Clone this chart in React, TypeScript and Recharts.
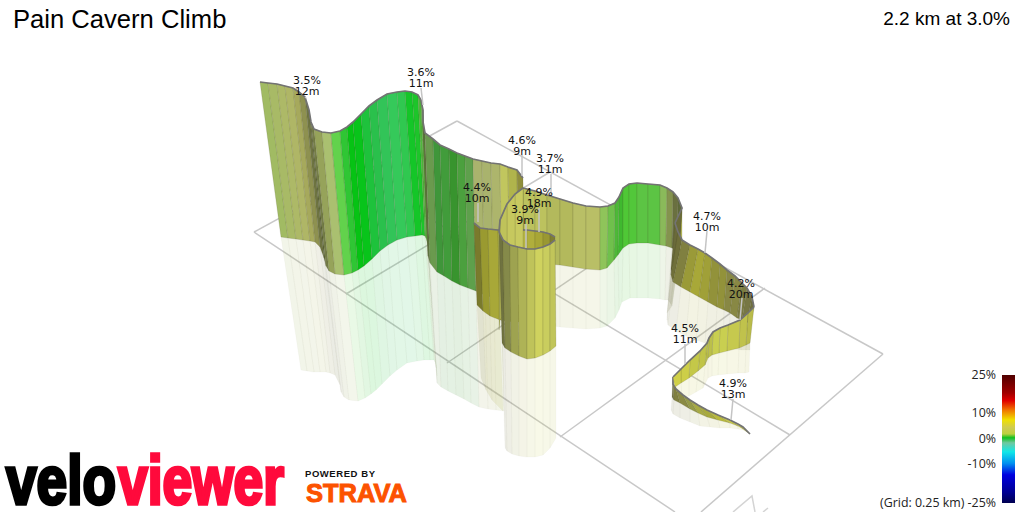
import React from 'react';
import { ComposedChart, Line, Scatter, XAxis, YAxis } from 'recharts';

// Each station: top x, top y, foot x, foot y, shadow x, shadow y
const wallAStations = [
  [260, 82, 281, 237, 301, 370], [268, 83, 288, 238, 307, 371], [277, 84, 296, 239, 314, 372],
  [285, 86, 303, 240, 320, 372], [293, 88, 310, 241, 326, 372], [299, 92, 315, 242, 330, 373],
  [305, 97, 320, 247, 335, 375], [309, 110, 324, 258, 340, 385], [311, 122, 326, 266, 341, 392],
  [314, 129, 329, 271, 344, 397], [322, 132, 335, 274, 349, 400], [331, 133, 344, 275, 358, 401],
  [340, 131, 352, 273, 365, 398], [347, 127, 358, 270, 371, 394], [353, 122, 364, 266, 376, 390],
  [361, 114, 372, 259, 382, 384], [369, 106, 380, 251, 390, 376], [377, 100, 388, 245, 397, 370],
  [387, 94, 397, 240, 407, 363], [397, 92, 407, 237, 417, 361], [405, 91, 415, 236, 424, 360],
  [412, 92, 422, 235, 430, 360], [418, 95, 425, 236, 434, 360], [421, 100, 426, 238, 435, 362],
  [423, 110, 428, 245, 436, 368], [423, 122, 428, 256, 437, 376], [425, 133, 430, 263, 437, 383],
  [433, 139, 437, 272, 441, 387], [440, 145, 444, 276, 448, 391], [449, 149, 452, 281, 456, 395],
  [457, 153, 460, 285, 464, 399], [465, 156, 468, 288, 471, 403], [473, 159, 476, 291, 479, 407],
  [482, 161, 485, 295, 488, 409], [491, 163, 494, 298, 496, 410], [500, 164, 502, 300, 504, 411],
  [508, 167, 510, 302, 512, 412], [517, 170, 519, 304, 520, 412], [523, 178, 524, 308, 525, 412],
];
const wallAColors = [
  '#a1bb63', '#a8ba66', '#adb967', '#afb666', '#a6a95c', '#8e9150', '#6f7542', '#5f683a', '#757e48',
  '#96a35a', '#aac070', '#62d24c', '#2fc634', '#06c314', '#08c41a', '#1ec23c', '#2ac04c', '#32c458',
  '#35c95a', '#30c850', '#14c628', '#1dc52a', '#4fb83c', '#5ca83e', '#5a7a3a', '#5f7540', '#6a9a4e',
  '#3f963a', '#419c3b', '#38942e', '#4ba03e', '#5ea04c', '#a9b36d', '#a9b36d', '#adb56c', '#c1c65e',
  '#b0b44c', '#8f8e3c',
];

const wallCStations = [
  [474, 223, 477, 305, 481, 378], [480, 228, 483, 311, 486, 390], [488, 229, 490, 316, 492, 400],
  [498, 230, 500, 320, 503, 411], [513, 230, 513, 322, 513, 412], [527, 230, 527, 322, 527, 412],
  [535, 231, 535, 322, 535, 412], [543, 232, 543, 322, 543, 412], [550, 234, 550, 322, 550, 412],
  [555, 237, 555, 320, 555, 412],
];
const wallCColors = ['#7a7a2c', '#9a9a30', '#a8a838', '#b8bb50', '#b5b442', '#b0ae3c', '#a8a636', '#9a9832', '#7f7e30'];

const foldStations = [
  [523, 188, 523, 305, 523, 400], [515, 194, 515, 305, 515, 400],
  [507, 204, 507, 310, 507, 400], [500, 220, 500, 320, 500, 400], [499, 232, 499, 330, 499, 400],
];
const foldColors = ['#c8ca60', '#c6c85e', '#bfc25a', '#a9ac50'];

const wallDStations = [
  [499, 232, 502, 343, 505, 448], [503, 240, 505, 348, 507, 451], [510, 245, 511, 352, 512, 454],
  [518, 247, 519, 356, 519, 456], [527, 249, 527, 359, 527, 457], [535, 249, 535, 358, 535, 457],
  [543, 247, 543, 355, 543, 455], [550, 244, 550, 351, 550, 448], [555, 240, 556, 346, 556, 438],
];
const wallDColors = ['#6f7240', '#858a4a', '#9ea350', '#aeb356', '#bfc35a', '#cfd25e', '#c9cd5e', '#c1c55a'];

const wallEStations = [
  [523, 188, 523, 260, 523, 320], [535, 191, 535, 262, 535, 323], [547, 195, 547, 264, 547, 325],
  [560, 199, 560, 265, 560, 327], [573, 203, 573, 267, 573, 328], [586, 206, 586, 269, 586, 329],
  [600, 207, 600, 270, 600, 328], [608, 206, 607, 268, 607, 326], [615, 203, 614, 260, 615, 318],
  [619, 197, 618, 255, 619, 310], [623, 188, 623, 248, 622, 302], [629, 184, 629, 244, 630, 298],
  [637, 183, 637, 243, 637, 298], [648, 184, 648, 243, 648, 298], [660, 185, 660, 245, 660, 299],
  [667, 188, 666, 246, 665, 300], [673, 192, 672, 248, 668, 300], [678, 198, 677, 251, 671, 304],
  [682, 208, 679, 255, 672, 306], [675, 223, 672, 268, 667, 313],
];
const wallEColors = [
  '#bcc25e', '#bcc25e', '#b3b95c', '#b3b95c', '#b9bf66', '#b9bf66', '#8fc45a', '#6fc04c', '#4db838',
  '#3fb92f', '#4fc836', '#52c73a', '#5cc444', '#5cc444', '#8aba5a', '#84934e', '#6a7040', '#5f6a3a', '#6a6a3a',
];

const sliverStations = [[682, 208, 682, 240, 682, 240], [675, 223, 675, 240, 675, 240]];
const sliverColors = ['#b9bb5a'];

const wallFStations = [
  [675, 223, 671, 268, 667, 313], [678, 232, 671, 275, 667, 320], [682, 240, 673, 282, 668, 325],
  [690, 245, 681, 287, 676, 331], [698, 249, 690, 292, 686, 336], [705, 253, 699, 297, 696, 340],
  [712, 258, 708, 302, 705, 343], [720, 264, 717, 307, 715, 345], [727, 270, 724, 310, 723, 347],
  [735, 276, 730, 313, 729, 348], [742, 283, 737, 318, 736, 349], [747, 288, 742, 320, 741, 350],
  [752, 297, 747, 322, 746, 350], [754, 307, 750, 325, 750, 350],
];
const wallFColors = [
  '#6a6a3a', '#6f6f3a', '#808040', '#9a9a38', '#a8a838', '#a0a038', '#92923a', '#92923a', '#888844',
  '#888844', '#7c7c42', '#777744', '#707040',
];

const wallGStations = [
  [754, 307, 750, 343, 749, 372], [748, 313, 746, 345, 745, 373], [740, 320, 739, 348, 738, 373],
  [728, 325, 727, 351, 727, 374], [720, 328, 719, 353, 718, 375], [713, 332, 712, 355, 712, 376],
  [709, 338, 708, 358, 708, 378], [707, 343, 705, 365, 703, 388], [700, 351, 698, 371, 696, 392],
  [690, 360, 689, 378, 689, 396], [681, 369, 681, 383, 682, 398], [673, 377, 675, 387, 675, 400],
];
const wallGColors = [
  '#b9bb4a', '#c0c24c', '#c6c94e', '#c9cf50', '#c9cf50', '#bcc04a', '#bcc04a', '#c0c448', '#c4c848',
  '#cdce48', '#d0d048',
];

const wallHStations = [
  [673, 377, 672, 397, 671, 410], [673, 384, 674, 400, 673, 414], [676, 389, 680, 403, 680, 418],
  [683, 395, 690, 409, 690, 422], [690, 400, 698, 413, 700, 426], [698, 405, 707, 417, 710, 427],
  [707, 410, 718, 420, 720, 428], [718, 415, 730, 423, 730, 428], [730, 420, 738, 426, 738, 429],
  [738, 424, 743, 429, 743, 430], [743, 427, 747, 432, 747, 432], [750, 434, 750, 434, 750, 434],
];
const wallHColors = [
  '#707040', '#808040', '#8a8a44', '#959a48', '#a8ab44', '#a8aa3c', '#b9ba3c', '#c8c848', '#c8c848',
  '#c4c440', '#b0b03c',
];

// Floor grid, read as end points
const gridLines = [
  [254, 232, 457, 121], [346, 294, 550, 172], [447, 363, 649, 226], [560, 437, 765, 288], [701, 512, 883, 354],
  [254, 232, 675, 512], [357, 175, 790, 435], [457, 121, 883, 354],
];
// Start of the north marker, cut off by the bottom edge
const northMark = [[733, 512], [752, 496], [755, 512]];
const northMarkTail = [[763, 512], [768, 508]];

const climbs = [
  { x: 307, y: 84, grade: '3.5%', length: '12m', line: [306, 98, 305, 97] },
  { x: 421, y: 76, grade: '3.6%', length: '11m', line: [421, 88, 423, 105] },
  { x: 522, y: 144, grade: '4.6%', length: '9m', line: [522, 155, 522, 176] },
  { x: 550, y: 162, grade: '3.7%', length: '11m', line: [551, 174, 551, 195] },
  { x: 477, y: 191, grade: '4.4%', length: '10m', line: [478, 203, 478, 222] },
  { x: 539, y: 196, grade: '4.9%', length: '18m', line: [539, 208, 539, 232] },
  { x: 525, y: 213, grade: '3.9%', length: '9m', line: [526, 224, 526, 248] },
  { x: 707, y: 220, grade: '4.7%', length: '10m', line: [707, 231, 705, 253] },
  { x: 741, y: 287, grade: '4.2%', length: '20m', line: [742, 298, 740, 320] },
  { x: 685, y: 332, grade: '4.5%', length: '11m', line: [685, 344, 685, 364] },
  { x: 733, y: 387, grade: '4.9%', length: '13m', line: [733, 399, 731, 420] },
];

const scaleTicks = [
  { x: 996, y: 379, text: '25%' },
  { x: 996, y: 417, text: '10%' },
  { x: 996, y: 443, text: '0%' },
  { x: 996, y: 468, text: '-10%' },
  { x: 996, y: 507, text: '(Grid: 0.25 km) -25%' },
];
const scaleBox = [[1002, 375], [1015, 375], [1015, 503], [1002, 503]];
const scaleStops = [
  ['0%', '#500000'], ['14%', '#a00000'], ['20%', '#e00000'], ['27%', '#f07000'], ['35%', '#f0e000'],
  ['41%', '#d0cc50'], ['46%', '#bcd040'], ['49%', '#10c020'], ['53%', '#70c8a0'], ['60%', '#10e8e8'],
  ['69%', '#0090f0'], ['78%', '#0000e0'], ['92%', '#000090'], ['100%', '#000050'],
];

const poly = (pts: number[][]) => [...pts, pts[0]].map(([x, y]) => ({ x, y }));

const Patch = (key: string, pts: number[][], fill: string, stroke: string, strokeWidth: number, opacity = 1) => (
  <Line
    key={key}
    data={poly(pts)}
    dataKey="y"
    dot={false}
    activeDot={false}
    legendType="none"
    isAnimationActive={false}
    stroke={stroke}
    strokeWidth={strokeWidth}
    style={{ fill, fillOpacity: opacity }}
  />
);

const Path = (key: string, pts: number[][], stroke: string, strokeWidth: number) => (
  <Line
    key={key}
    data={pts.map(([x, y]) => ({ x, y }))}
    dataKey="y"
    dot={false}
    activeDot={false}
    legendType="none"
    isAnimationActive={false}
    stroke={stroke}
    strokeWidth={strokeWidth}
  />
);

const shadow = (name: string, st: number[][], colors: string[]) =>
  colors.map((c, i) =>
    Patch(
      `${name}-s${i}`,
      [[st[i][2], st[i][3]], [st[i + 1][2], st[i + 1][3]], [st[i + 1][4], st[i + 1][5]], [st[i][4], st[i][5]]],
      c,
      'rgba(120,120,90,0.05)',
      0.6,
      0.14,
    ),
  );

const wall = (name: string, st: number[][], colors: string[], outline = true) => [
  ...colors.map((c, i) =>
    Patch(
      `${name}-w${i}`,
      [[st[i][0], st[i][1]], [st[i + 1][0], st[i + 1][1]], [st[i + 1][2], st[i + 1][3]], [st[i][2], st[i][3]]],
      c,
      'rgba(70,70,40,0.22)',
      0.7,
    ),
  ),
  ...(outline ? [Path(`${name}-top`, st.map((s) => [s[0], s[1]]), '#737373', 1.7)] : []),
];

const ClimbLabel = ({ cx, cy, payload }: any) => (
  <text x={cx} y={cy} textAnchor="middle" fontFamily="DejaVu Sans" fontSize={11} fill="#111">
    <tspan x={cx}>{payload.grade}</tspan>
    <tspan x={cx} dy={10.5}>{payload.length}</tspan>
  </text>
);

const TickLabel = ({ cx, cy, payload }: any) => (
  <text x={cx} y={cy} textAnchor="end" fontFamily="Open Sans" fontSize={12.4} fill="#222">
    {payload.text}
  </text>
);

export default function App() {
  return (
    <div style={{ position: 'absolute', left: 0, top: 0, width: 1024, height: 512, overflow: 'hidden', background: '#fff' }}>
      <ComposedChart width={1024} height={512} margin={{ top: 0, right: 0, bottom: 0, left: 0 }}>
        <defs>
          <linearGradient id="slopeScale" x1="0" y1="0" x2="0" y2="1">
            {scaleStops.map(([offset, color]) => (
              <stop key={offset} offset={offset} stopColor={color} />
            ))}
          </linearGradient>
        </defs>
        <XAxis type="number" dataKey="x" domain={[0, 1024]} hide />
        <YAxis type="number" dataKey="y" domain={[0, 512]} reversed hide />

        {gridLines.map(([a, b, c, d], i) => Path(`grid${i}`, [[a, b], [c, d]], '#c8c8c8', 1.5))}
        {Path('north', northMark, '#d4d4d4', 1.5)}
        {Path('northTail', northMarkTail, '#d4d4d4', 1.5)}

        {shadow('e', wallEStations, wallEColors)}
        {shadow('a', wallAStations.slice(0, 36), wallAColors.slice(0, 35))}
        {shadow('c', wallCStations.slice(0, 4), wallCColors.slice(0, 3))}
        {shadow('f', wallFStations, wallFColors)}
        {shadow('h', wallHStations, wallHColors)}
        {shadow('g', wallGStations, wallGColors)}
        {shadow('d', wallDStations, wallDColors)}

        {wall('sliver', sliverStations, sliverColors, false)}
        {wall('e', wallEStations, wallEColors)}
        {wall('a', wallAStations, wallAColors)}
        {wall('c', wallCStations, wallCColors)}
        {wall('fold', foldStations, foldColors)}
        {wall('d', wallDStations, wallDColors)}
        {wall('f', wallFStations, wallFColors)}
        {wall('h', wallHStations, wallHColors)}
        {wall('g', wallGStations, wallGColors)}

        {climbs.map((c, i) => Path(`lead${i}`, [[c.line[0], c.line[1]], [c.line[2], c.line[3]]], '#c4c4c4', 1.5))}
        <Scatter data={climbs} shape={ClimbLabel} isAnimationActive={false} />

        {Patch('scale', scaleBox, 'url(#slopeScale)', 'none', 0)}
        <Scatter data={scaleTicks} shape={TickLabel} isAnimationActive={false} />

        <text x={13} y={28} fontFamily="Liberation Sans" fontSize={25.6} fill="#000">Pain Cavern Climb</text>
        <text x={1010} y={25} textAnchor="end" fontFamily="Liberation Sans" fontSize={19} fill="#000">2.2 km at 3.0%</text>

        <text x={6} y={504} fontFamily="Liberation Sans" fontWeight="bold" fontSize={68} fill="#000" stroke="#000" strokeWidth={3.5} textLength={110} lengthAdjust="spacingAndGlyphs">velo</text>
        <text x={118} y={504} fontFamily="Liberation Sans" fontWeight="bold" fontSize={68} fill="#ff0a3c" stroke="#ff0a3c" strokeWidth={3.5} textLength={166} lengthAdjust="spacingAndGlyphs">viewer</text>
        <text x={305} y={477} fontFamily="Liberation Sans" fontWeight="bold" fontSize={9.5} fill="#111" textLength={70}>POWERED BY</text>
        <text x={306} y={502} fontFamily="Liberation Sans" fontWeight="bold" fontSize={26} fill="#fc5200" stroke="#fc5200" strokeWidth={1} textLength={101} lengthAdjust="spacingAndGlyphs">STRAVA</text>
      </ComposedChart>
    </div>
  );
}
